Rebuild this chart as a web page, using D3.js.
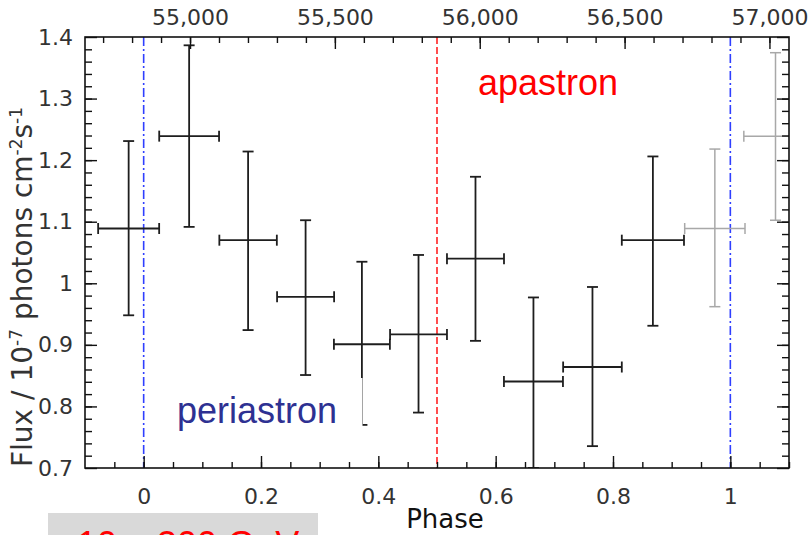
<!DOCTYPE html>
<html>
<head>
<meta charset="utf-8">
<script src="https://cdn.jsdelivr.net/npm/d3@7"></script>
<style>
  html, body { margin: 0; padding: 0; background: #fff; overflow: hidden; }
  svg { display: block; }
  .tick-label { font-family: "DejaVu Sans", sans-serif; fill: #333; }
</style>
</head>
<body>
<svg id="chart" width="808" height="535"></svg>
<script>
// Folded light curve: flux per orbital phase bin
const phase          = [-0.0256, 0.0775, 0.178, 0.276, 0.372, 0.4685, 0.5656, 0.6644, 0.765, 0.868];
const phaseHalfWidth = [0.052, 0.051, 0.049, 0.0486, 0.0477, 0.0485, 0.0486, 0.0503, 0.050, 0.053];
const flux           = [1.089, 1.239, 1.070, 0.978, 0.901, 0.917, 1.040, 0.8405, 0.864, 1.070];
const fluxHigh       = [1.231, 1.3865, 1.214, 1.1024, 1.035, 1.046, 1.173, 0.977, 0.994, 1.206];
const fluxLow        = [0.948, 1.0916, 0.924, 0.851, 0.770, 0.790, 0.9065, 0.700, 0.7355, 0.931];

// Bins repeated past phase 1 (drawn in grey)
const repPhase          = [0.9736, 1.077];
const repPhaseHalfWidth = [0.0514, 0.054];
const repFlux           = [1.089, 1.239];
const repFluxHigh       = [1.218, 1.3745];
const repFluxLow        = [0.962, 1.1024];

// Orbit markers
const markerPhases = [0, 0.5, 1];
const markerNames  = ["periastron", "apastron", "periastron"];

// Axis settings
const phaseDomain = [-0.1, 1.1];
const fluxDomain  = [0.7, 1.4];
const phaseTicks  = [0, 0.2, 0.4, 0.6, 0.8, 1];
const fluxTicks   = [0.7, 0.8, 0.9, 1.0, 1.1, 1.2, 1.3, 1.4];
const mjdTicks    = [55000, 55500, 56000, 56500, 57000];
const epochMJD    = 54840;   // MJD of phase 0
const periodDays  = 2025;    // orbital period

const svg = d3.select("#chart");
const margin = { top: 37, right: 19, bottom: 67, left: 85 };
const W = 808 - margin.left - margin.right;
const H = 535 - margin.top - margin.bottom;

const x = d3.scaleLinear().domain(phaseDomain).range([0, W]);
const y = d3.scaleLinear().domain(fluxDomain).range([H, 0]);
const xMJD = d3.scaleLinear()
  .domain(phaseDomain.map(p => epochMJD + p * periodDays))
  .range([0, W]);

const g = svg.append("g").attr("transform", `translate(${margin.left},${margin.top})`);

g.append("clipPath").attr("id", "plot-clip")
  .append("rect").attr("width", W).attr("height", H);

// Orbit marker lines
const markerColor = d => d === "apastron" ? "#ff2222" : "#2f3fff";
g.append("g").selectAll("line").data(markerPhases).join("line")
  .attr("x1", d => x(d)).attr("x2", d => x(d))
  .attr("y1", 0).attr("y2", H)
  .attr("stroke", (d, i) => markerColor(markerNames[i]))
  .attr("stroke-width", 1.6)
  .attr("stroke-dasharray", (d, i) => markerNames[i] === "apastron" ? "7,3" : "9,3,2,3");

// Error-bar crosses
function drawBars(cls, ph, hw, f, hi, lo, color, width) {
  const rows = ph.map((p, i) => ({ p, hw: hw[i], f: f[i], hi: hi[i], lo: lo[i] }));
  const cap = 5.5;
  const grp = g.append("g").attr("class", cls).attr("clip-path", "url(#plot-clip)")
    .attr("stroke", color).attr("stroke-width", width).attr("fill", "none");
  const b = grp.selectAll("g").data(rows).join("g");
  b.append("line")
    .attr("x1", d => x(d.p)).attr("x2", d => x(d.p))
    .attr("y1", d => y(d.hi)).attr("y2", d => y(d.lo));
  b.append("line")
    .attr("x1", d => x(d.p) - cap).attr("x2", d => x(d.p) + cap)
    .attr("y1", d => y(d.hi)).attr("y2", d => y(d.hi));
  b.append("line")
    .attr("x1", d => x(d.p) - cap).attr("x2", d => x(d.p) + cap)
    .attr("y1", d => y(d.lo)).attr("y2", d => y(d.lo));
  b.append("line")
    .attr("x1", d => x(d.p - d.hw)).attr("x2", d => x(d.p + d.hw))
    .attr("y1", d => y(d.f)).attr("y2", d => y(d.f));
  b.append("line")
    .attr("x1", d => x(d.p - d.hw)).attr("x2", d => x(d.p - d.hw))
    .attr("y1", d => y(d.f) - cap).attr("y2", d => y(d.f) + cap);
  b.append("line")
    .attr("x1", d => x(d.p + d.hw)).attr("x2", d => x(d.p + d.hw))
    .attr("y1", d => y(d.f) - cap).attr("y2", d => y(d.f) + cap);
}
drawBars("bars-rep", repPhase, repPhaseHalfWidth, repFlux, repFluxHigh, repFluxLow, "#a8a8a8", 1.5);
drawBars("bars", phase, phaseHalfWidth, flux, fluxHigh, fluxLow, "#1e1e1e", 1.8);

// Axes: ticks point into the plot
function styleAxis(sel) {
  sel.select(".domain").remove();
  sel.selectAll(".tick line").attr("stroke", "#111").attr("stroke-width", 1.4);
  sel.selectAll(".tick text").attr("class", "tick-label").attr("font-size", 22);
}
const fmtPhase = d => d3.format("~g")(d);

// bottom minor + major
g.append("g").attr("transform", `translate(0,${H})`)
  .call(d3.axisBottom(x).tickValues(d3.range(-0.05, 1.1001, 0.05).map(v => +v.toFixed(2)))
    .tickSize(-6).tickFormat(""))
  .call(styleAxis);
g.append("g").attr("transform", `translate(0,${H})`)
  .call(d3.axisBottom(x).tickValues(phaseTicks).tickSize(-12).tickPadding(20).tickFormat(fmtPhase))
  .call(styleAxis);

// left minor + major
const fluxMinor = d3.range(0.72, 1.4, 0.02).map(v => +v.toFixed(2));
g.append("g")
  .call(d3.axisLeft(y).tickValues(fluxMinor).tickSize(-7).tickFormat(""))
  .call(styleAxis);
g.append("g")
  .call(d3.axisLeft(y).tickValues(fluxTicks).tickSize(-12).tickPadding(12).tickFormat(fmtPhase))
  .call(styleAxis);

// right (unlabelled)
g.append("g").attr("transform", `translate(${W},0)`)
  .call(d3.axisRight(y).tickValues(fluxMinor).tickSize(-7).tickFormat(""))
  .call(styleAxis);
g.append("g").attr("transform", `translate(${W},0)`)
  .call(d3.axisRight(y).tickValues(fluxTicks).tickSize(-12).tickFormat(""))
  .call(styleAxis);

// top: MJD
const mjdMinor = d3.range(54700, 57100, 100);
g.append("g")
  .call(d3.axisTop(xMJD).tickValues(mjdMinor).tickSize(-6).tickFormat(""))
  .call(styleAxis);
g.append("g")
  .call(d3.axisTop(xMJD).tickValues(mjdTicks).tickSize(-12).tickPadding(12).tickFormat(d3.format(",")))
  .call(styleAxis);

// frame
g.append("rect").attr("width", W).attr("height", H)
  .attr("fill", "none").attr("stroke", "#111").attr("stroke-width", 1.6);

// Axis titles
g.append("text")
  .attr("x", x(0.5) + 8).attr("y", H + 60)
  .attr("text-anchor", "middle")
  .attr("font-family", "DejaVu Sans, sans-serif").attr("font-size", 26)
  .attr("fill", "#111")
  .text("Phase");

const yTitle = svg.append("text")
  .attr("transform", `translate(32,287) rotate(-90)`)
  .attr("text-anchor", "middle")
  .attr("font-family", "DejaVu Sans, sans-serif").attr("font-size", 28)
  .attr("fill", "#333");
yTitle.append("tspan").text("Flux / 10");
yTitle.append("tspan").attr("dy", -10).attr("font-size", 17).text("-7");
yTitle.append("tspan").attr("dy", 10).text(" photons cm");
yTitle.append("tspan").attr("dy", -10).attr("font-size", 17).text("-2");
yTitle.append("tspan").attr("dy", 10).text("s");
yTitle.append("tspan").attr("dy", -10).attr("font-size", 17).text("-1");

// Orbit labels
const peri = svg.append("g");
peri.append("rect")
  .attr("x", 170).attr("y", 378).attr("width", 362.5 - 170).attr("height", 62)
  .attr("fill", "#fff");
peri.append("text")
  .attr("x", 177).attr("y", 423)
  .attr("font-family", "Liberation Sans, Arial, sans-serif").attr("font-size", 36)
  .attr("fill", "#2e3192")
  .text(markerNames[0]);
svg.append("text")
  .attr("x", 478).attr("y", 95)
  .attr("font-family", "Liberation Sans, Arial, sans-serif").attr("font-size", 36)
  .attr("fill", "#ff0000")
  .text(markerNames[1]);

// Energy band tag
svg.append("rect").attr("x", 48).attr("y", 513).attr("width", 270).attr("height", 40)
  .attr("fill", "#d9d9d9");
svg.append("text")
  .attr("x", 77).attr("y", 557)
  .attr("font-family", "Liberation Sans, Arial, sans-serif").attr("font-size", 36)
  .attr("fill", "#ff0000")
  .text("10 – 300 GeV");
</script>
</body>
</html>
